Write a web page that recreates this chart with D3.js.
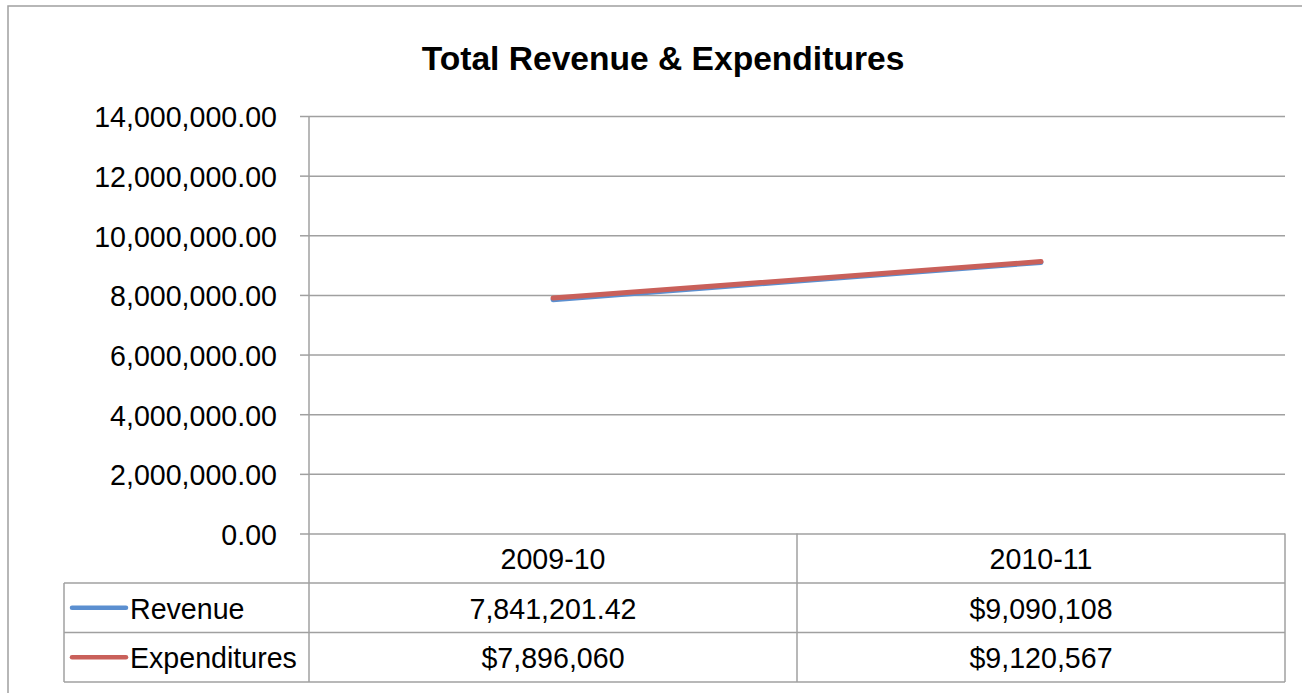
<!DOCTYPE html>
<html>
<head>
<meta charset="utf-8">
<script src="https://cdn.jsdelivr.net/npm/d3@7"></script>
<style>
  html, body { margin: 0; padding: 0; background: #fff; }
  svg { display: block; }
  text { font-family: "Liberation Sans", Arial, sans-serif; fill: #000; }
</style>
</head>
<body>
<svg id="chart" width="1302" height="693"></svg>
<script>
// ---- data ----
const title = "Total Revenue & Expenditures";
const categories = ["2009-10", "2010-11"];
const seriesNames = ["Revenue", "Expenditures"];
const revenue = [7841201.42, 9090108];
const expenditures = [7896060, 9120567];
const revenueLabels = ["7,841,201.42", "$9,090,108"];
const expenditureLabels = ["$7,896,060", "$9,120,567"];
const yTicks = [0, 2000000, 4000000, 6000000, 8000000, 10000000, 12000000, 14000000];
const seriesColors = ["#5B8FD0", "#C9605A"];

// ---- layout ----
const W = 1302, H = 693;
const plotLeft = 309, plotRight = 1285, plotTop = 116, plotBottom = 533.5;
const rowH = 49.5;
const legendLeft = 64;
const gridColor = "#A0A0A0";
const fs = 28.6;

const svg = d3.select("#chart");

// outer chart border
svg.append("rect")
  .attr("x", 8).attr("y", 6).attr("width", W + 20).attr("height", H + 20)
  .attr("fill", "#fff").attr("stroke", gridColor).attr("stroke-width", 1.5);

// title
svg.append("text")
  .attr("x", 663).attr("y", 70)
  .attr("text-anchor", "middle")
  .attr("font-size", 33.6).attr("font-weight", "bold")
  .text(title);

const x = d3.scaleBand().domain(categories).range([plotLeft, plotRight]).padding(0);
const y = d3.scaleLinear().domain([0, 14000000]).range([plotBottom, plotTop]);

// gridlines + y axis
const yAxis = d3.axisLeft(y)
  .tickValues(yTicks)
  .tickFormat(d3.format(",.2f"))
  .tickSize(-(plotRight - plotLeft))
  .tickPadding(0);

const gy = svg.append("g").attr("transform", `translate(${plotLeft},0)`).call(yAxis);
gy.attr("font-size", fs).attr("font-family", "Liberation Sans, Arial, sans-serif");
gy.select(".domain").remove();
gy.selectAll(".tick line").attr("stroke", gridColor).attr("stroke-width", 1.5);
gy.selectAll(".tick text")
  .attr("x", -32).attr("dy", "0.38em")
  .attr("font-size", fs)
  .attr("fill", "#000");
// outer tick stubs
gy.selectAll(".tick").append("line")
  .attr("x1", -9).attr("x2", 0)
  .attr("stroke", gridColor).attr("stroke-width", 1.5);

// vertical axis line (extends through table)
const tableBottom = plotBottom + rowH * 3;
svg.append("line")
  .attr("x1", plotLeft).attr("x2", plotLeft)
  .attr("y1", plotTop).attr("y2", tableBottom)
  .attr("stroke", gridColor).attr("stroke-width", 1.5);

// ---- data table ----
const tg = svg.append("g");
[1, 2, 3].forEach(i => {
  tg.append("line")
    .attr("x1", legendLeft).attr("x2", plotRight)
    .attr("y1", plotBottom + rowH * i).attr("y2", plotBottom + rowH * i)
    .attr("stroke", gridColor).attr("stroke-width", 1.5);
});
// legend column left border
tg.append("line")
  .attr("x1", legendLeft).attr("x2", legendLeft)
  .attr("y1", plotBottom + rowH).attr("y2", tableBottom)
  .attr("stroke", gridColor).attr("stroke-width", 1.5);
// column separators
categories.forEach(c => {
  const xr = x(c) + x.bandwidth();
  tg.append("line")
    .attr("x1", xr).attr("x2", xr)
    .attr("y1", plotBottom).attr("y2", tableBottom)
    .attr("stroke", gridColor).attr("stroke-width", 1.5);
});

// header labels
tg.selectAll("text.cat").data(categories).enter().append("text")
  .attr("class", "cat")
  .attr("x", d => x(d) + x.bandwidth() / 2)
  .attr("y", plotBottom + rowH / 2)
  .attr("dy", "0.38em")
  .attr("text-anchor", "middle")
  .attr("font-size", fs)
  .text(d => d);

const rows = [revenueLabels, expenditureLabels];
rows.forEach((labels, r) => {
  const cy = plotBottom + rowH * (r + 1) + rowH / 2;
  tg.selectAll(`text.v${r}`).data(labels).enter().append("text")
    .attr("class", `v${r}`)
    .attr("x", (d, i) => x(categories[i]) + x.bandwidth() / 2)
    .attr("y", cy)
    .attr("dy", "0.38em")
    .attr("text-anchor", "middle")
    .attr("font-size", fs)
    .text(d => d);
  // legend key
  tg.append("line")
    .attr("x1", 72).attr("x2", 126)
    .attr("y1", cy).attr("y2", cy)
    .attr("stroke", seriesColors[r]).attr("stroke-width", 4.5)
    .attr("stroke-linecap", "round");
  tg.append("text")
    .attr("x", 130).attr("y", cy).attr("dy", "0.38em")
    .attr("font-size", fs)
    .text(seriesNames[r]);
});

// ---- lines ----
const line = d3.line()
  .x((d, i) => x(categories[i]) + x.bandwidth() / 2)
  .y(d => y(d));

[revenue, expenditures].forEach((vals, i) => {
  svg.append("path")
    .datum(vals)
    .attr("d", line)
    .attr("fill", "none")
    .attr("stroke", seriesColors[i])
    .attr("stroke-width", 5)
    .attr("stroke-linecap", "round");
});
</script>
</body>
</html>
